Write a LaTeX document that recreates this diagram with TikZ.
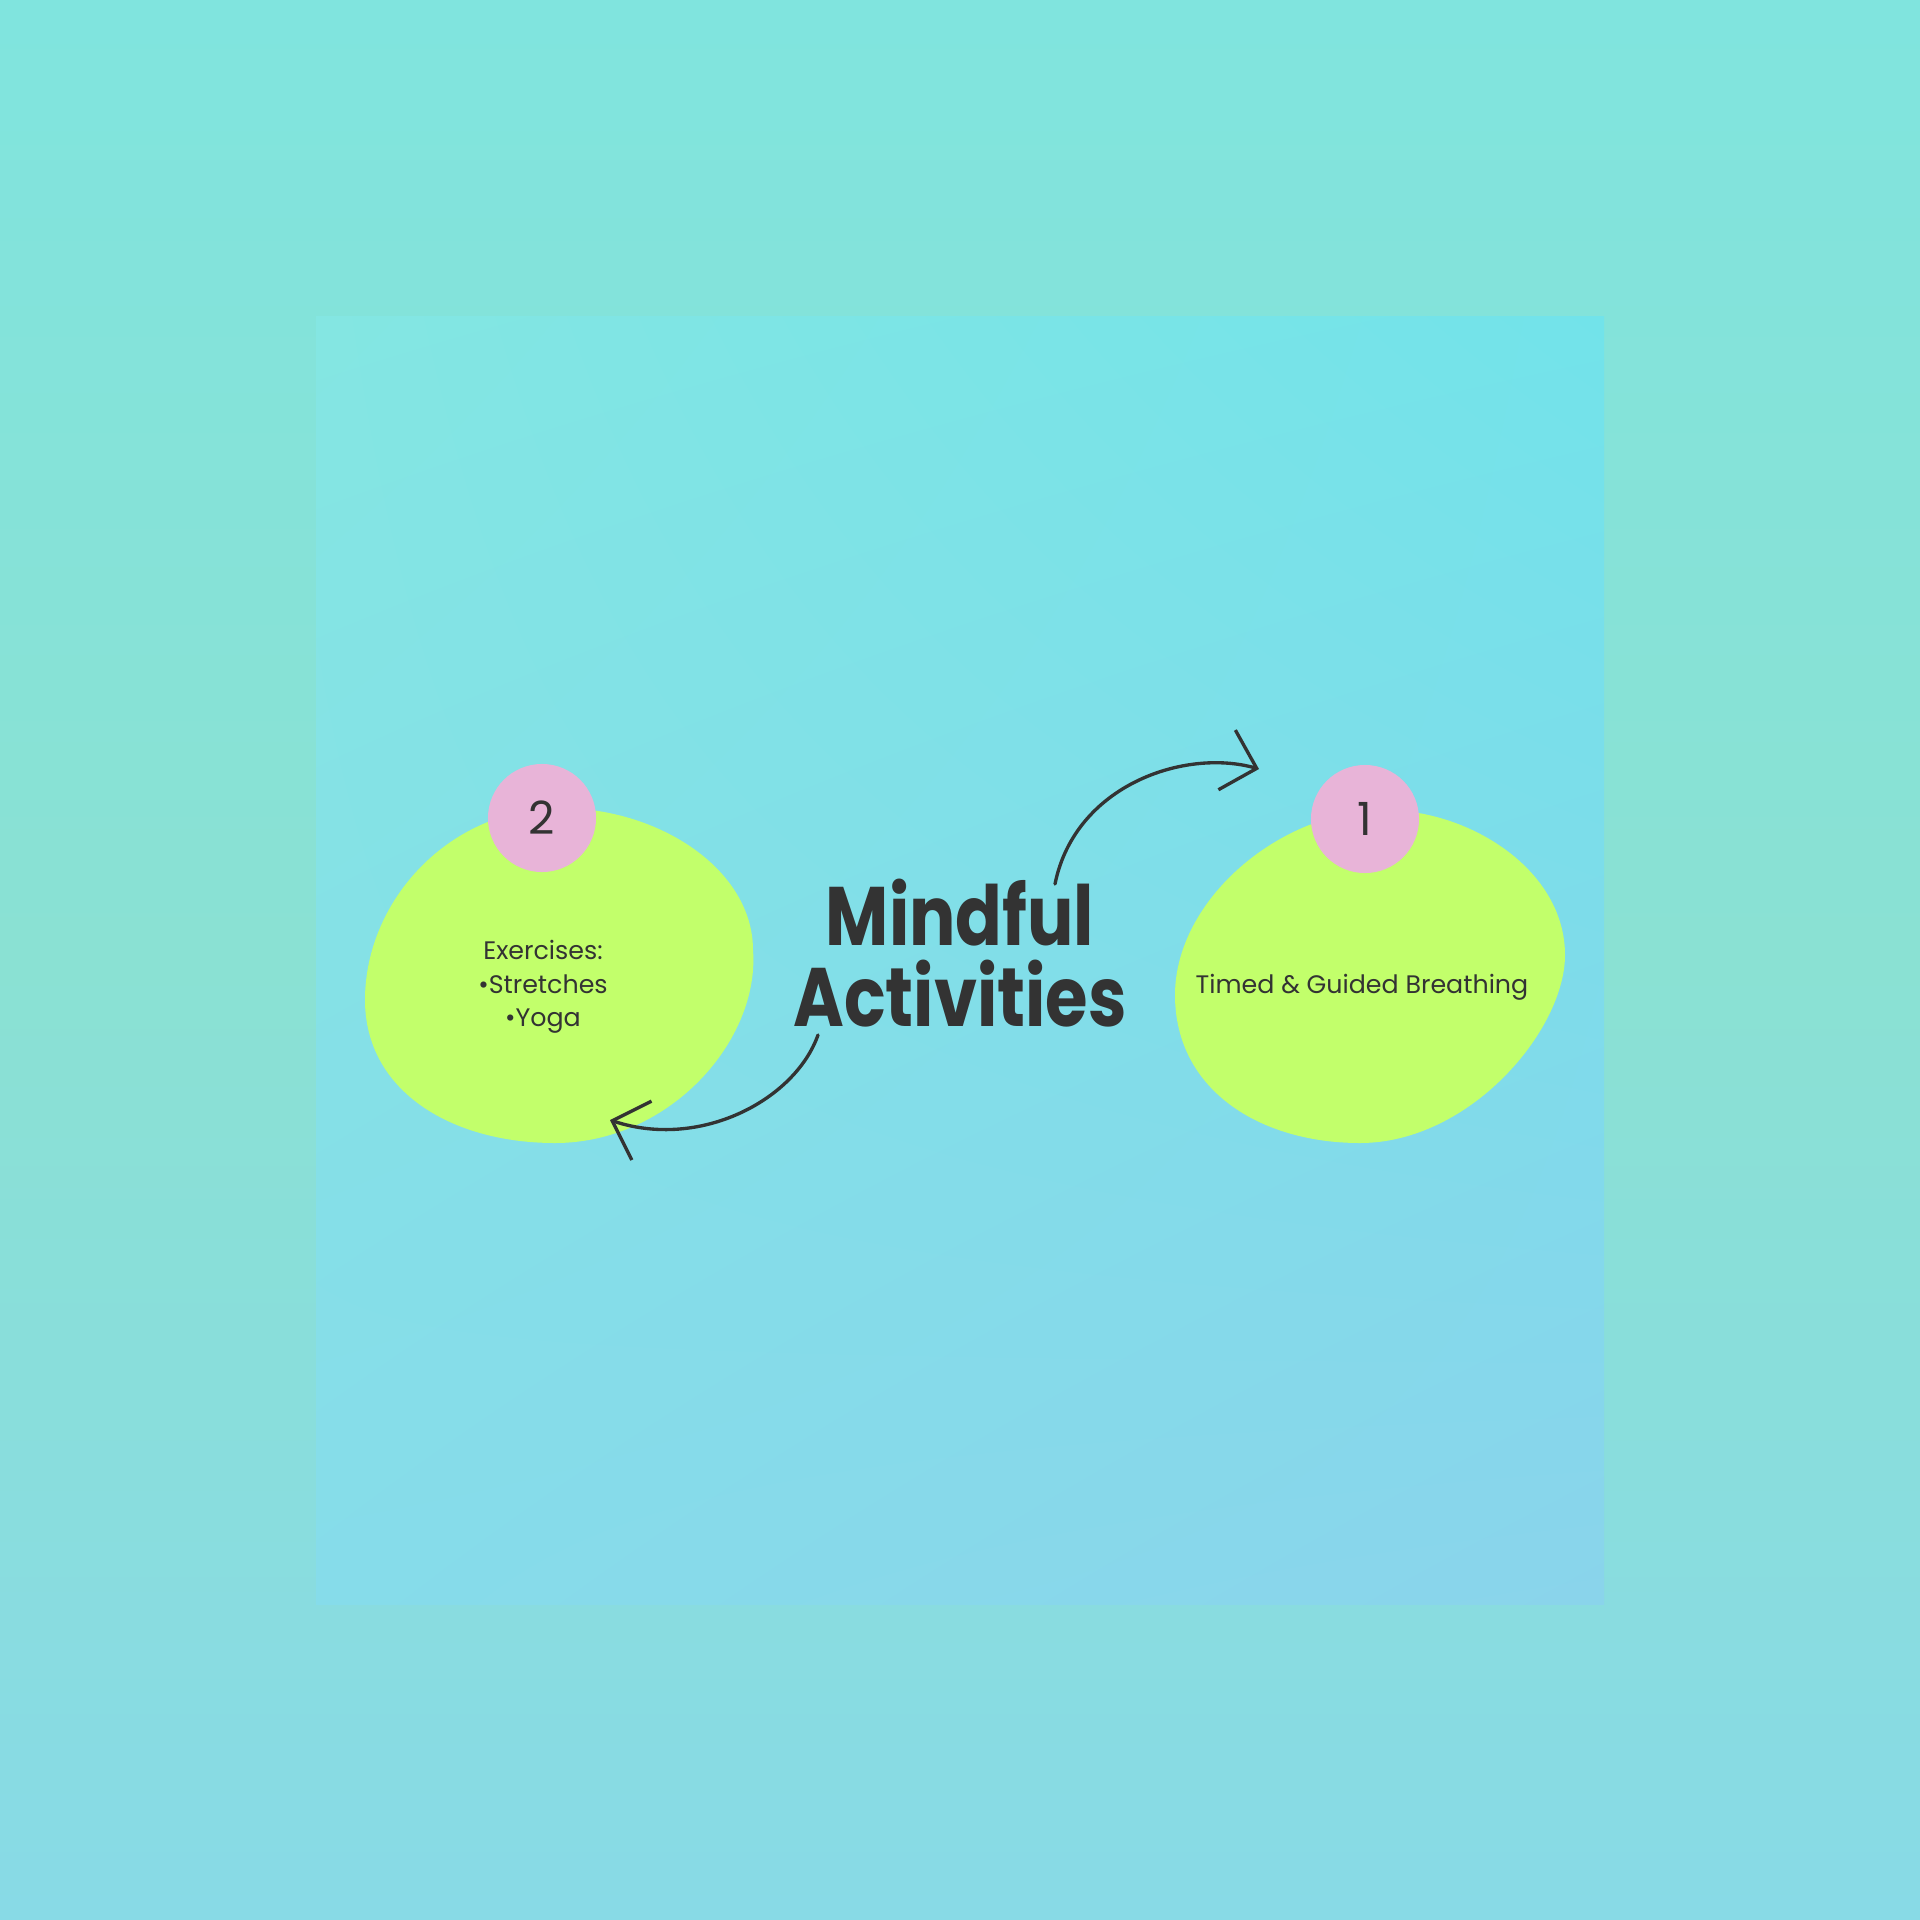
\documentclass[tikz,border=0pt]{standalone}
\usepackage{fontspec}
\setmainfont{Poppins}
\newfontfamily\titlefont[FakeStretch=0.83]{Poppins}
\usetikzlibrary{arrows.meta,shadings}
\definecolor{outtop}{HTML}{80E4DE}
\definecolor{outmid}{HTML}{8AE1D3}
\definecolor{outbot}{HTML}{88DAE6}
\definecolor{inUL}{HTML}{84E6E2}
\definecolor{inUR}{HTML}{72E3EA}
\definecolor{inLL}{HTML}{86DCEA}
\definecolor{inLR}{HTML}{8AD4EB}
\definecolor{lime}{HTML}{C2FF6B}
\definecolor{pinkc}{HTML}{E8B4D8}
\definecolor{ink}{HTML}{333333}
\tikzset{
  blob/.style={fill=lime, draw=none},
  badge/.style={circle, fill=pinkc, minimum size=1.08cm, inner sep=0pt, text=ink,
    font=\fontsize{13}{13}\selectfont},
  body/.style={text=ink, align=center, font=\fontsize{7.2}{9.5}\selectfont},
  title/.style={text=ink, align=center, font=\titlefont\fontsize{23.6}{22.8}\selectfont\bfseries},
  curvearrow/.style={draw=ink, line width=0.95pt, line cap=round,
    -{Straight Barb[length=0.31cm,width=0.62cm,line width=0.95pt]}}
}
\begin{document}
\begin{tikzpicture}[x=0.01cm,y=-0.01cm]
\useasboundingbox (0,0) rectangle (1920,1920);
\shade[top color=outtop, bottom color=outbot, middle color=outmid] (0,0) rectangle (1920,1920);
\shade[upper left=inUL, upper right=inUR, lower left=inLL, lower right=inLR] (316,316) rectangle (1604,1604);
% left blob
\fill[blob] (560,808) .. controls (660,808) and (753,870) .. (753,950)
  .. controls (760,1040) and (670,1143) .. (555,1143)
  .. controls (450,1143) and (365,1090) .. (365,1000)
  .. controls (365,900) and (450,808) .. cycle;
% right blob
\fill[blob] (1385,810) .. controls (1470,810) and (1565,870) .. (1565,955)
  .. controls (1565,1030) and (1470,1143) .. (1360,1143)
  .. controls (1260,1143) and (1175,1090) .. (1175,995)
  .. controls (1175,900) and (1280,810) .. cycle;
\node[badge] (b2) at (542,818) {2};
\node[badge] (b1) at (1365,819) {1};
\node[body] (t2) at (543,987) {Exercises:\\•Stretches\\•Yoga};
\node[body] (t1) at (1362,987) {Timed \& Guided Breathing};
\node[title] (title) at (960,953) {Mindful\\Activities};
\coordinate (a1s) at (1055,884);
\coordinate (a1e) at (1259,769);
\coordinate (a2s) at (818,1035);
\coordinate (a2e) at (610,1120);
\draw[curvearrow] (a1s) .. controls (1075,785) and (1185,748) .. (a1e);
\draw[curvearrow] (a2s) .. controls (795,1100) and (700,1150) .. (a2e);
\end{tikzpicture}
\end{document}
